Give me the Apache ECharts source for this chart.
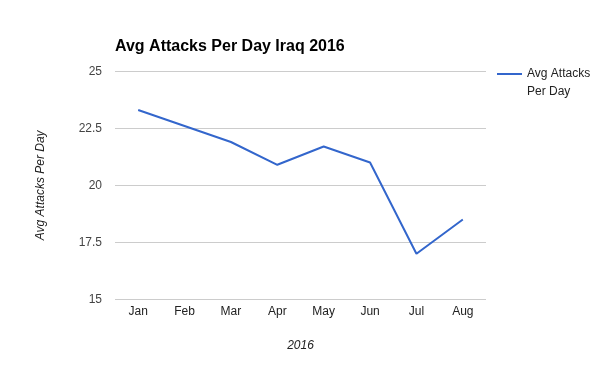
<!DOCTYPE html>
<html>
<head>
<meta charset="utf-8">
<script src="https://cdn.jsdelivr.net/npm/echarts@6/dist/echarts.min.js"></script>
<style>html,body{margin:0;padding:0;background:#fff}#c{width:600px;height:371px}</style>
</head>
<body>
<div id="c"></div>
<script>
const months = ['Jan', 'Feb', 'Mar', 'Apr', 'May', 'Jun', 'Jul', 'Aug'];
const avgAttacks = [23.3, 22.6, 21.9, 20.9, 21.7, 21.0, 17.0, 18.5];
const yTicks = [15, 17.5, 20, 22.5, 25];
const seriesName = 'Avg Attacks Per Day';
const titleText = 'Avg Attacks Per Day Iraq 2016';
const xName = '2016';
const yName = 'Avg Attacks Per Day';

const font = 'Arial, "Liberation Sans", sans-serif';
const chart = echarts.init(document.getElementById('c'));
chart.setOption({
  animation: false,
  backgroundColor: '#fff',
  title: {
    text: titleText,
    left: 115, top: 39,
    padding: 0,
    textStyle: { fontFamily: font, fontSize: 16, fontWeight: 'bold', color: '#000' }
  },
  legend: {
    left: 497, top: 47, padding: 0,
    icon: 'rect', itemWidth: 25, itemHeight: 2, itemGap: 6,
    formatter: function () { return ' \nAvg Attacks\nPer Day'; },
    textStyle: { fontFamily: font, fontSize: 12, color: '#222', lineHeight: 18 },
    data: [seriesName]
  },
  grid: { left: 115, right: 114, top: 71.3, bottom: 71.7, containLabel: false },
  xAxis: {
    type: 'category',
    data: months,
    boundaryGap: true,
    name: xName,
    nameLocation: 'middle',
    nameGap: 40,
    nameTextStyle: { fontFamily: font, fontSize: 12, fontStyle: 'italic', color: '#222' },
    axisLine: { show: false },
    axisTick: { show: false },
    axisLabel: { fontFamily: font, fontSize: 12, color: '#222', margin: 6 }
  },
  yAxis: {
    type: 'value',
    min: yTicks[0], max: yTicks[yTicks.length - 1], interval: 2.5,
    name: yName,
    nameLocation: 'middle',
    nameRotate: 90,
    nameGap: 68,
    nameTextStyle: { fontFamily: font, fontSize: 12, fontStyle: 'italic', color: '#222' },
    axisLine: { show: false },
    axisTick: { show: false },
    splitLine: { lineStyle: { color: '#cccccc', width: 1 } },
    axisLabel: { fontFamily: font, fontSize: 12, color: '#444', margin: 13 }
  },
  series: [{
    name: seriesName,
    type: 'line',
    data: avgAttacks,
    symbol: 'none',
    lineStyle: { color: '#3366cc', width: 2 },
    itemStyle: { color: '#3366cc' }
  }]
});
</script>
</body>
</html>
